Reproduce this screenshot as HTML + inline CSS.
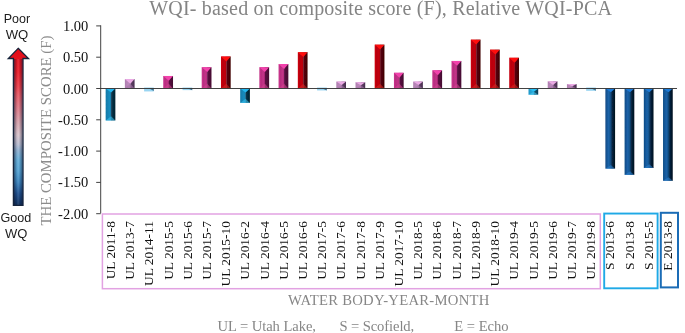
<!DOCTYPE html>
<html><head><meta charset="utf-8"><title>WQI chart</title>
<style>html,body{margin:0;padding:0;background:#fff;}body{width:685px;height:333px;position:relative;overflow:hidden;font-family:"Liberation Serif",serif;}.se{font-family:"Liberation Serif",serif;}.sa{font-family:"Liberation Sans",sans-serif;}</style>
</head><body>
<svg width="685" height="333" viewBox="0 0 685 333" style="position:absolute;left:0;top:0">
<defs>
<linearGradient id="ag" x1="0" y1="48" x2="0" y2="206" gradientUnits="userSpaceOnUse">
<stop offset="0" stop-color="#e00c18"/><stop offset="0.15" stop-color="#ee1a26"/><stop offset="0.24" stop-color="#ee3a46"/><stop offset="0.30" stop-color="#ea5a66"/><stop offset="0.38" stop-color="#e27a88"/><stop offset="0.47" stop-color="#daa4ae"/><stop offset="0.55" stop-color="#dcc6ce"/><stop offset="0.61" stop-color="#bcc0d4"/><stop offset="0.645" stop-color="#94b4d4"/><stop offset="0.71" stop-color="#64b0dc"/><stop offset="0.78" stop-color="#54a4d6"/><stop offset="0.85" stop-color="#3a84be"/><stop offset="0.92" stop-color="#1e5090"/><stop offset="1" stop-color="#0e2c58"/></linearGradient>
<linearGradient id="as" x1="0" y1="0" x2="1" y2="0">
<stop offset="0" stop-color="#101830" stop-opacity="0.55"/><stop offset="0.3" stop-color="#101830" stop-opacity="0.12"/><stop offset="0.5" stop-color="#ffffff" stop-opacity="0.1"/><stop offset="0.7" stop-color="#101830" stop-opacity="0.12"/><stop offset="1" stop-color="#101830" stop-opacity="0.55"/></linearGradient>
<linearGradient id="Lnavy" x1="0" y1="0" x2="1" y2="0"><stop offset="0" stop-color="#0e4a84"/><stop offset="0.7" stop-color="#1a60a4"/><stop offset="1" stop-color="#0e4a84"/></linearGradient>
<linearGradient id="Rnavy" x1="0" y1="0" x2="1" y2="0"><stop offset="0" stop-color="#082844"/><stop offset="1" stop-color="#030e1c"/></linearGradient>
<linearGradient id="Lcyan" x1="0" y1="0" x2="1" y2="0"><stop offset="0" stop-color="#1079a8"/><stop offset="0.7" stop-color="#188cbe"/><stop offset="1" stop-color="#1079a8"/></linearGradient>
<linearGradient id="Rcyan" x1="0" y1="0" x2="1" y2="0"><stop offset="0" stop-color="#083850"/><stop offset="1" stop-color="#04202e"/></linearGradient>
<linearGradient id="Lcyan2" x1="0" y1="0" x2="1" y2="0"><stop offset="0" stop-color="#1f98c8"/><stop offset="0.7" stop-color="#28a8d8"/><stop offset="1" stop-color="#1f98c8"/></linearGradient>
<linearGradient id="Rcyan2" x1="0" y1="0" x2="1" y2="0"><stop offset="0" stop-color="#115472"/><stop offset="1" stop-color="#0c3e56"/></linearGradient>
<linearGradient id="Lpale" x1="0" y1="0" x2="1" y2="0"><stop offset="0" stop-color="#84ccee"/><stop offset="0.7" stop-color="#93d4f1"/><stop offset="1" stop-color="#84ccee"/></linearGradient>
<linearGradient id="Rpale" x1="0" y1="0" x2="1" y2="0"><stop offset="0" stop-color="#3f7690"/><stop offset="1" stop-color="#335f78"/></linearGradient>
<linearGradient id="Llilac" x1="0" y1="0" x2="1" y2="0"><stop offset="0" stop-color="#b07fb0"/><stop offset="0.7" stop-color="#bc8abc"/><stop offset="1" stop-color="#b07fb0"/></linearGradient>
<linearGradient id="Rlilac" x1="0" y1="0" x2="1" y2="0"><stop offset="0" stop-color="#62426a"/><stop offset="1" stop-color="#4a3050"/></linearGradient>
<linearGradient id="Lmag" x1="0" y1="0" x2="1" y2="0"><stop offset="0" stop-color="#b02878"/><stop offset="0.7" stop-color="#c23488"/><stop offset="1" stop-color="#b02878"/></linearGradient>
<linearGradient id="Rmag" x1="0" y1="0" x2="1" y2="0"><stop offset="0" stop-color="#5e1244"/><stop offset="1" stop-color="#430a30"/></linearGradient>
<linearGradient id="Lred" x1="0" y1="0" x2="1" y2="0"><stop offset="0" stop-color="#ae000c"/><stop offset="0.7" stop-color="#c20410"/><stop offset="1" stop-color="#ae000c"/></linearGradient>
<linearGradient id="Rred" x1="0" y1="0" x2="1" y2="0"><stop offset="0" stop-color="#5c0009"/><stop offset="1" stop-color="#3e0005"/></linearGradient>
<filter id="bl" x="-2%" y="-2%" width="104%" height="104%"><feGaussianBlur stdDeviation="0.35"/></filter>
<linearGradient id="NV" x1="0" y1="0" x2="1" y2="0"><stop offset="0" stop-color="#0e4a84"/><stop offset="0.33" stop-color="#1b63a9"/><stop offset="0.5" stop-color="#15558f"/><stop offset="0.72" stop-color="#07233f"/><stop offset="1" stop-color="#030e1c"/></linearGradient>
</defs>
<g filter="url(#bl)">
<rect x="105.66" y="88.50" width="5.63" height="31.93" fill="url(#Lcyan)"/>
<rect x="111.09" y="88.50" width="4.27" height="31.93" fill="url(#Rcyan)"/>
<path d="M105.66 120.43 L115.36 120.43 L111.09 116.35 Z" fill="#38bfec" opacity="0.6"/>
<path d="M105.66 88.50 L115.36 88.50 L111.09 92.57 Z" fill="#22b6ee"/>
<rect x="124.88" y="79.11" width="5.63" height="9.39" fill="url(#Llilac)"/>
<rect x="130.31" y="79.11" width="4.27" height="9.39" fill="url(#Rlilac)"/>
<path d="M124.88 88.50 L134.58 88.50 L130.31 83.81 Z" fill="#a676a8" opacity="0.6"/>
<path d="M124.88 79.11 L134.58 79.11 L130.31 83.81 Z" fill="#eaaae4"/>
<rect x="163.32" y="75.98" width="5.63" height="12.52" fill="url(#Lmag)"/>
<rect x="168.75" y="75.98" width="4.27" height="12.52" fill="url(#Rmag)"/>
<rect x="163.32" y="75.98" width="1.3" height="12.52" fill="#f243ac" opacity="0.3"/>
<path d="M163.32 88.50 L173.02 88.50 L168.75 83.65 Z" fill="#d2438f" opacity="0.6"/>
<path d="M163.32 75.98 L173.02 75.98 L168.75 80.83 Z" fill="#f243ac"/>
<rect x="201.76" y="67.22" width="5.63" height="21.28" fill="url(#Lmag)"/>
<rect x="207.19" y="67.22" width="4.27" height="21.28" fill="url(#Rmag)"/>
<rect x="201.76" y="67.22" width="1.3" height="21.28" fill="#f243ac" opacity="0.3"/>
<path d="M201.76 88.50 L211.46 88.50 L207.19 83.65 Z" fill="#d2438f" opacity="0.6"/>
<path d="M201.76 67.22 L211.46 67.22 L207.19 72.07 Z" fill="#f243ac"/>
<rect x="220.98" y="56.57" width="5.63" height="31.93" fill="url(#Lred)"/>
<rect x="226.41" y="56.57" width="4.27" height="31.93" fill="url(#Rred)"/>
<rect x="220.98" y="56.57" width="1.3" height="31.93" fill="#ff0c0c" opacity="0.3"/>
<path d="M220.98 88.50 L230.68 88.50 L226.41 83.65 Z" fill="#d42222" opacity="0.6"/>
<path d="M220.98 56.57 L230.68 56.57 L226.41 61.42 Z" fill="#ff0c0c"/>
<rect x="240.20" y="88.50" width="5.63" height="14.40" fill="url(#Lcyan)"/>
<rect x="245.63" y="88.50" width="4.27" height="14.40" fill="url(#Rcyan)"/>
<path d="M240.20 102.90 L249.90 102.90 L245.63 98.82 Z" fill="#38bfec" opacity="0.6"/>
<path d="M240.20 88.50 L249.90 88.50 L245.63 92.57 Z" fill="#22b6ee"/>
<rect x="259.42" y="67.22" width="5.63" height="21.28" fill="url(#Lmag)"/>
<rect x="264.85" y="67.22" width="4.27" height="21.28" fill="url(#Rmag)"/>
<rect x="259.42" y="67.22" width="1.3" height="21.28" fill="#f243ac" opacity="0.3"/>
<path d="M259.42 88.50 L269.12 88.50 L264.85 83.65 Z" fill="#d2438f" opacity="0.6"/>
<path d="M259.42 67.22 L269.12 67.22 L264.85 72.07 Z" fill="#f243ac"/>
<rect x="278.64" y="64.09" width="5.63" height="24.41" fill="url(#Lmag)"/>
<rect x="284.07" y="64.09" width="4.27" height="24.41" fill="url(#Rmag)"/>
<rect x="278.64" y="64.09" width="1.3" height="24.41" fill="#f243ac" opacity="0.3"/>
<path d="M278.64 88.50 L288.34 88.50 L284.07 83.65 Z" fill="#d2438f" opacity="0.6"/>
<path d="M278.64 64.09 L288.34 64.09 L284.07 68.94 Z" fill="#f243ac"/>
<rect x="297.86" y="52.19" width="5.63" height="36.31" fill="url(#Lred)"/>
<rect x="303.29" y="52.19" width="4.27" height="36.31" fill="url(#Rred)"/>
<rect x="297.86" y="52.19" width="1.3" height="36.31" fill="#ff0c0c" opacity="0.3"/>
<path d="M297.86 88.50 L307.56 88.50 L303.29 83.65 Z" fill="#d42222" opacity="0.6"/>
<path d="M297.86 52.19 L307.56 52.19 L303.29 57.04 Z" fill="#ff0c0c"/>
<rect x="336.30" y="81.61" width="5.63" height="6.89" fill="url(#Llilac)"/>
<rect x="341.73" y="81.61" width="4.27" height="6.89" fill="url(#Rlilac)"/>
<path d="M336.30 88.50 L346.00 88.50 L341.73 85.06 Z" fill="#a676a8" opacity="0.6"/>
<path d="M336.30 81.61 L346.00 81.61 L341.73 85.06 Z" fill="#eaaae4"/>
<rect x="355.52" y="82.24" width="5.63" height="6.26" fill="url(#Llilac)"/>
<rect x="360.95" y="82.24" width="4.27" height="6.26" fill="url(#Rlilac)"/>
<path d="M355.52 88.50 L365.22 88.50 L360.95 85.37 Z" fill="#a676a8" opacity="0.6"/>
<path d="M355.52 82.24 L365.22 82.24 L360.95 85.37 Z" fill="#eaaae4"/>
<rect x="374.74" y="44.68" width="5.63" height="43.82" fill="url(#Lred)"/>
<rect x="380.17" y="44.68" width="4.27" height="43.82" fill="url(#Rred)"/>
<rect x="374.74" y="44.68" width="1.3" height="43.82" fill="#ff0c0c" opacity="0.3"/>
<path d="M374.74 88.50 L384.44 88.50 L380.17 83.65 Z" fill="#d42222" opacity="0.6"/>
<path d="M374.74 44.68 L384.44 44.68 L380.17 49.53 Z" fill="#ff0c0c"/>
<rect x="393.96" y="72.85" width="5.63" height="15.65" fill="url(#Lmag)"/>
<rect x="399.39" y="72.85" width="4.27" height="15.65" fill="url(#Rmag)"/>
<rect x="393.96" y="72.85" width="1.3" height="15.65" fill="#f243ac" opacity="0.3"/>
<path d="M393.96 88.50 L403.66 88.50 L399.39 83.65 Z" fill="#d2438f" opacity="0.6"/>
<path d="M393.96 72.85 L403.66 72.85 L399.39 77.70 Z" fill="#f243ac"/>
<rect x="413.18" y="81.61" width="5.63" height="6.89" fill="url(#Llilac)"/>
<rect x="418.61" y="81.61" width="4.27" height="6.89" fill="url(#Rlilac)"/>
<path d="M413.18 88.50 L422.88 88.50 L418.61 85.06 Z" fill="#a676a8" opacity="0.6"/>
<path d="M413.18 81.61 L422.88 81.61 L418.61 85.06 Z" fill="#eaaae4"/>
<rect x="432.40" y="70.35" width="5.63" height="18.15" fill="url(#Lmag)"/>
<rect x="437.83" y="70.35" width="4.27" height="18.15" fill="url(#Rmag)"/>
<rect x="432.40" y="70.35" width="1.3" height="18.15" fill="#f243ac" opacity="0.3"/>
<path d="M432.40 88.50 L442.10 88.50 L437.83 83.65 Z" fill="#d2438f" opacity="0.6"/>
<path d="M432.40 70.35 L442.10 70.35 L437.83 75.20 Z" fill="#f243ac"/>
<rect x="451.62" y="60.96" width="5.63" height="27.54" fill="url(#Lmag)"/>
<rect x="457.05" y="60.96" width="4.27" height="27.54" fill="url(#Rmag)"/>
<rect x="451.62" y="60.96" width="1.3" height="27.54" fill="#f243ac" opacity="0.3"/>
<path d="M451.62 88.50 L461.32 88.50 L457.05 83.65 Z" fill="#d2438f" opacity="0.6"/>
<path d="M451.62 60.96 L461.32 60.96 L457.05 65.81 Z" fill="#f243ac"/>
<rect x="470.84" y="39.67" width="5.63" height="48.83" fill="url(#Lred)"/>
<rect x="476.27" y="39.67" width="4.27" height="48.83" fill="url(#Rred)"/>
<rect x="470.84" y="39.67" width="1.3" height="48.83" fill="#ff0c0c" opacity="0.3"/>
<path d="M470.84 88.50 L480.54 88.50 L476.27 83.65 Z" fill="#d42222" opacity="0.6"/>
<path d="M470.84 39.67 L480.54 39.67 L476.27 44.52 Z" fill="#ff0c0c"/>
<rect x="490.06" y="49.69" width="5.63" height="38.81" fill="url(#Lred)"/>
<rect x="495.49" y="49.69" width="4.27" height="38.81" fill="url(#Rred)"/>
<rect x="490.06" y="49.69" width="1.3" height="38.81" fill="#ff0c0c" opacity="0.3"/>
<path d="M490.06 88.50 L499.76 88.50 L495.49 83.65 Z" fill="#d42222" opacity="0.6"/>
<path d="M490.06 49.69 L499.76 49.69 L495.49 54.54 Z" fill="#ff0c0c"/>
<rect x="509.28" y="57.83" width="5.63" height="30.67" fill="url(#Lred)"/>
<rect x="514.71" y="57.83" width="4.27" height="30.67" fill="url(#Rred)"/>
<rect x="509.28" y="57.83" width="1.3" height="30.67" fill="#ff0c0c" opacity="0.3"/>
<path d="M509.28 88.50 L518.98 88.50 L514.71 83.65 Z" fill="#d42222" opacity="0.6"/>
<path d="M509.28 57.83 L518.98 57.83 L514.71 62.68 Z" fill="#ff0c0c"/>
<rect x="528.50" y="88.50" width="5.63" height="6.26" fill="url(#Lcyan2)"/>
<rect x="533.93" y="88.50" width="4.27" height="6.26" fill="url(#Rcyan2)"/>
<path d="M528.50 94.76 L538.20 94.76 L533.93 91.63 Z" fill="#49c8f2" opacity="0.6"/>
<path d="M528.50 88.50 L538.20 88.50 L533.93 91.63 Z" fill="#2cc0f4"/>
<rect x="547.72" y="81.30" width="5.63" height="7.20" fill="url(#Llilac)"/>
<rect x="553.15" y="81.30" width="4.27" height="7.20" fill="url(#Rlilac)"/>
<path d="M547.72 88.50 L557.42 88.50 L553.15 84.90 Z" fill="#a676a8" opacity="0.6"/>
<path d="M547.72 81.30 L557.42 81.30 L553.15 84.90 Z" fill="#eaaae4"/>
<rect x="566.94" y="84.12" width="5.63" height="4.38" fill="url(#Llilac)"/>
<rect x="572.37" y="84.12" width="4.27" height="4.38" fill="url(#Rlilac)"/>
<path d="M566.94 88.50 L576.64 88.50 L572.37 86.31 Z" fill="#a676a8" opacity="0.6"/>
<path d="M566.94 84.12 L576.64 84.12 L572.37 86.31 Z" fill="#eaaae4"/>
<rect x="605.38" y="88.50" width="9.70" height="80.13" fill="url(#NV)"/>
<path d="M605.38 168.63 L615.08 168.63 L610.81 164.94 Z" fill="#2b7ecb" opacity="0.6"/>
<path d="M605.38 88.50 L615.08 88.50 L610.81 92.19 Z" fill="#1f7cda"/>
<rect x="624.60" y="88.50" width="9.70" height="86.39" fill="url(#NV)"/>
<path d="M624.60 174.89 L634.30 174.89 L630.03 171.20 Z" fill="#2b7ecb" opacity="0.6"/>
<path d="M624.60 88.50 L634.30 88.50 L630.03 92.19 Z" fill="#1f7cda"/>
<rect x="643.82" y="88.50" width="9.70" height="79.50" fill="url(#NV)"/>
<path d="M643.82 168.00 L653.52 168.00 L649.25 164.32 Z" fill="#2b7ecb" opacity="0.6"/>
<path d="M643.82 88.50 L653.52 88.50 L649.25 92.19 Z" fill="#1f7cda"/>
<rect x="663.04" y="88.50" width="9.70" height="92.34" fill="url(#NV)"/>
<path d="M663.04 180.84 L672.74 180.84 L668.47 177.15 Z" fill="#2b7ecb" opacity="0.6"/>
<path d="M663.04 88.50 L672.74 88.50 L668.47 92.19 Z" fill="#1f7cda"/>
</g>
<rect x="144.10" y="87.50" width="9.70" height="3.94" fill="#99d5f2"/>
<path d="M148.47 87.90 L153.80 87.90 L153.80 91.10 Z" fill="#2f5f7c" opacity="0.85"/>
<rect x="182.54" y="87.50" width="9.70" height="2.63" fill="#99d5f2"/>
<path d="M186.91 87.90 L192.24 87.90 L192.24 90.13 Z" fill="#2f5f7c" opacity="0.85"/>
<rect x="317.08" y="87.50" width="9.70" height="2.94" fill="#99d5f2"/>
<path d="M321.44 87.90 L326.78 87.90 L326.78 90.44 Z" fill="#2f5f7c" opacity="0.85"/>
<rect x="586.16" y="87.50" width="9.70" height="3.32" fill="#99d5f2"/>
<path d="M590.52 87.90 L595.86 87.90 L595.86 90.82 Z" fill="#2f5f7c" opacity="0.85"/>
<path d="M100.7 25.3 V213.3" stroke="#383838" stroke-width="0.95" fill="none"/>
<path d="M96.2 88.5 H677" stroke="#383838" stroke-width="0.95" fill="none"/>
<path d="M96.2 25.90 H100.7" stroke="#383838" stroke-width="0.95"/>
<text x="88.3" y="30.90" text-anchor="end" class="se" font-size="14.5" fill="#111">1.00</text>
<path d="M96.2 57.20 H100.7" stroke="#383838" stroke-width="0.95"/>
<text x="88.3" y="62.20" text-anchor="end" class="se" font-size="14.5" fill="#111">0.50</text>
<text x="88.3" y="93.50" text-anchor="end" class="se" font-size="14.5" fill="#111">0.00</text>
<path d="M96.2 119.80 H100.7" stroke="#383838" stroke-width="0.95"/>
<text x="88.3" y="124.80" text-anchor="end" class="se" font-size="14.5" fill="#111">-0.50</text>
<path d="M96.2 151.10 H100.7" stroke="#383838" stroke-width="0.95"/>
<text x="88.3" y="156.10" text-anchor="end" class="se" font-size="14.5" fill="#111">-1.00</text>
<path d="M96.2 182.40 H100.7" stroke="#383838" stroke-width="0.95"/>
<text x="88.3" y="187.40" text-anchor="end" class="se" font-size="14.5" fill="#111">-1.50</text>
<path d="M96.2 213.70 H100.7" stroke="#383838" stroke-width="0.95"/>
<text x="88.3" y="218.70" text-anchor="end" class="se" font-size="14.5" fill="#111">-2.00</text>
<rect x="102.4" y="214.0" width="497.9" height="74.7" fill="none" stroke="#e2a2e2" stroke-width="1.5"/>
<rect x="604.2" y="213.55" width="53.4" height="74.75" fill="none" stroke="#1fa9e6" stroke-width="1.9"/>
<rect x="660.8" y="212.8" width="17.2" height="74.6" fill="none" stroke="#1b6cb6" stroke-width="2"/>
<text transform="translate(114.91 221.0) rotate(-90)" text-anchor="end" class="se" font-size="13.45" fill="#111">UL 2011-8</text>
<text transform="translate(134.11 221.0) rotate(-90)" text-anchor="end" class="se" font-size="13.45" fill="#111">UL 2013-7</text>
<text transform="translate(153.32 221.0) rotate(-90)" text-anchor="end" class="se" font-size="13.45" fill="#111">UL 2014-11</text>
<text transform="translate(172.53 221.0) rotate(-90)" text-anchor="end" class="se" font-size="13.45" fill="#111">UL 2015-5</text>
<text transform="translate(191.75 221.0) rotate(-90)" text-anchor="end" class="se" font-size="13.45" fill="#111">UL 2015-6</text>
<text transform="translate(210.95 221.0) rotate(-90)" text-anchor="end" class="se" font-size="13.45" fill="#111">UL 2015-7</text>
<text transform="translate(230.16 221.0) rotate(-90)" text-anchor="end" class="se" font-size="13.45" fill="#111">UL 2015-10</text>
<text transform="translate(249.38 221.0) rotate(-90)" text-anchor="end" class="se" font-size="13.45" fill="#111">UL 2016-2</text>
<text transform="translate(268.59 221.0) rotate(-90)" text-anchor="end" class="se" font-size="13.45" fill="#111">UL 2016-4</text>
<text transform="translate(287.80 221.0) rotate(-90)" text-anchor="end" class="se" font-size="13.45" fill="#111">UL 2016-5</text>
<text transform="translate(307.01 221.0) rotate(-90)" text-anchor="end" class="se" font-size="13.45" fill="#111">UL 2016-6</text>
<text transform="translate(326.22 221.0) rotate(-90)" text-anchor="end" class="se" font-size="13.45" fill="#111">UL 2017-5</text>
<text transform="translate(345.43 221.0) rotate(-90)" text-anchor="end" class="se" font-size="13.45" fill="#111">UL 2017-6</text>
<text transform="translate(364.64 221.0) rotate(-90)" text-anchor="end" class="se" font-size="13.45" fill="#111">UL 2017-8</text>
<text transform="translate(383.85 221.0) rotate(-90)" text-anchor="end" class="se" font-size="13.45" fill="#111">UL 2017-9</text>
<text transform="translate(403.06 221.0) rotate(-90)" text-anchor="end" class="se" font-size="13.45" fill="#111">UL 2017-10</text>
<text transform="translate(422.27 221.0) rotate(-90)" text-anchor="end" class="se" font-size="13.45" fill="#111">UL 2018-5</text>
<text transform="translate(441.48 221.0) rotate(-90)" text-anchor="end" class="se" font-size="13.45" fill="#111">UL 2018-6</text>
<text transform="translate(460.69 221.0) rotate(-90)" text-anchor="end" class="se" font-size="13.45" fill="#111">UL 2018-7</text>
<text transform="translate(479.90 221.0) rotate(-90)" text-anchor="end" class="se" font-size="13.45" fill="#111">UL 2018-9</text>
<text transform="translate(499.11 221.0) rotate(-90)" text-anchor="end" class="se" font-size="13.45" fill="#111">UL 2018-10</text>
<text transform="translate(518.32 221.0) rotate(-90)" text-anchor="end" class="se" font-size="13.45" fill="#111">UL 2019-4</text>
<text transform="translate(537.53 221.0) rotate(-90)" text-anchor="end" class="se" font-size="13.45" fill="#111">UL 2019-5</text>
<text transform="translate(556.74 221.0) rotate(-90)" text-anchor="end" class="se" font-size="13.45" fill="#111">UL 2019-6</text>
<text transform="translate(575.95 221.0) rotate(-90)" text-anchor="end" class="se" font-size="13.45" fill="#111">UL 2019-7</text>
<text transform="translate(595.16 221.0) rotate(-90)" text-anchor="end" class="se" font-size="13.45" fill="#111">UL 2019-8</text>
<text transform="translate(614.37 221.0) rotate(-90)" text-anchor="end" class="se" font-size="13.45" fill="#111">S 2013-6</text>
<text transform="translate(633.58 221.0) rotate(-90)" text-anchor="end" class="se" font-size="13.45" fill="#111">S 2013-8</text>
<text transform="translate(652.79 221.0) rotate(-90)" text-anchor="end" class="se" font-size="13.45" fill="#111">S 2015-5</text>
<text transform="translate(672.00 221.0) rotate(-90)" text-anchor="end" class="se" font-size="13.45" fill="#111">E 2013-8</text>
<text x="149.2" y="15.15" class="se" font-size="20" fill="#848484" textLength="462.8" lengthAdjust="spacing">WQI- based on composite score (F), Relative WQI-PCA</text>
<text x="288" y="304.7" class="se" font-size="14.7" fill="#868686" textLength="201.4" lengthAdjust="spacing">WATER BODY-YEAR-MONTH</text>
<text x="217.6" y="330.6" class="se" font-size="14.6" fill="#868686" textLength="98.4" lengthAdjust="spacing">UL = Utah Lake,</text>
<text x="339.4" y="330.6" class="se" font-size="14.6" fill="#868686" textLength="74.8" lengthAdjust="spacing">S = Scofield,</text>
<text x="454.2" y="330.6" class="se" font-size="14.6" fill="#868686">E = Echo</text>
<text transform="translate(50.6 225.6) rotate(-90)" class="se" font-size="14.85" fill="#8c8c8c">THE COMPOSITE SCORE (F)</text>
<path d="M18.2 48.3 L28.5 58.5 L23 58.5 L23 205.4 L13.4 205.4 L13.4 58.5 L8.3 58.5 Z" fill="url(#ag)" stroke="#15233b" stroke-width="1.3" stroke-linejoin="miter"/>
<rect x="14" y="59" width="8.4" height="145.8" fill="url(#as)"/>
<text x="3.7" y="23" class="sa" font-size="13.2" fill="#1c1c1c" textLength="26.4" lengthAdjust="spacingAndGlyphs">Poor</text>
<text x="5.7" y="38.7" class="sa" font-size="13.2" fill="#1c1c1c" textLength="22.6" lengthAdjust="spacingAndGlyphs">WQ</text>
<text x="0.5" y="222" class="sa" font-size="13.0" fill="#1c1c1c" textLength="30.8" lengthAdjust="spacingAndGlyphs">Good</text>
<text x="5.1" y="237.7" class="sa" font-size="13.0" fill="#1c1c1c" textLength="22.4" lengthAdjust="spacingAndGlyphs">WQ</text>
</svg>
</body></html>
